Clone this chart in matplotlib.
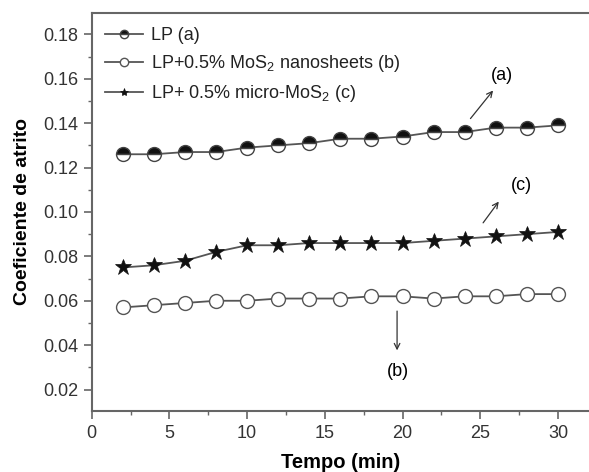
import matplotlib
matplotlib.use("Agg")
import matplotlib.pyplot as plt
from matplotlib.ticker import MultipleLocator

plt.rcParams['font.family'] = ['Liberation Sans', 'DejaVu Sans']
plt.rcParams['mathtext.fontset'] = 'custom'
plt.rcParams['mathtext.rm'] = 'Liberation Sans'

tempo = [2, 4, 6, 8, 10, 12, 14, 16, 18, 20, 22, 24, 26, 28, 30]
lp_a = [0.126, 0.126, 0.127, 0.127, 0.129, 0.130, 0.131, 0.133, 0.133, 0.134,
        0.136, 0.136, 0.138, 0.138, 0.139]
nano_b = [0.057, 0.058, 0.059, 0.060, 0.060, 0.061, 0.061, 0.061, 0.062, 0.062,
          0.061, 0.062, 0.062, 0.063, 0.063]
micro_c = [0.075, 0.076, 0.078, 0.082, 0.085, 0.085, 0.086, 0.086, 0.086, 0.086,
           0.087, 0.088, 0.089, 0.090, 0.091]
labels = ['LP (a)', r'LP+0.5% MoS$_2$ nanosheets (b)', r'LP+ 0.5% micro-MoS$_2$ (c)']
yticks = [0.02, 0.04, 0.06, 0.08, 0.10, 0.12, 0.14, 0.16, 0.18]
yticklabels = ['0.02', '0.04', '0.06', '0.08', '0.10', '0.12', '0.14', '0.16', '0.18']

fig = plt.figure(figsize=(5.89, 4.72), dpi=100)
ax = fig.add_axes([0.1557, 0.1300, 0.8443, 0.8418])

lc = '#555555'
ax.plot(tempo, lp_a, color=lc, lw=1.3, marker='o', ms=10, fillstyle='top',
        markerfacecolor='#111111', markerfacecoloralt='white',
        markeredgecolor='#444444', mew=1.0, label=labels[0])
ax.plot(tempo, nano_b, color=lc, lw=1.3, marker='o', ms=10,
        markerfacecolor='white', markeredgecolor='#555555', mew=1.0,
        label=labels[1])
ax.plot(tempo, micro_c, color=lc, lw=1.3, marker='*', ms=12,
        markerfacecolor='#111111', markeredgecolor='#111111', mew=0.5,
        label=labels[2])

ax.set_xlim(0, 32)
ax.set_ylim(0.0105, 0.1895)
ax.xaxis.set_major_locator(MultipleLocator(5))
ax.xaxis.set_minor_locator(MultipleLocator(2.5))
ax.yaxis.set_minor_locator(MultipleLocator(0.01))
ax.set_yticks(yticks)
ax.set_yticklabels(yticklabels)

for s in ['left', 'bottom', 'top']:
    ax.spines[s].set_color('#666666')
    ax.spines[s].set_linewidth(1.5)
ax.spines['right'].set_visible(False)
ax.tick_params(which='major', direction='out', length=5.5, width=1.2, color='#666666',
               labelsize=13, labelcolor='#333333')
ax.tick_params(axis='x', which='major', pad=5)
ax.tick_params(axis='y', which='major', pad=4)
ax.tick_params(which='minor', direction='out', length=3, width=1.0, color='#666666')

ax.set_xlabel('Tempo (min)', fontsize=14.5, fontweight='bold', labelpad=8)
ax.set_ylabel('Coeficiente de atrito', fontsize=14, fontweight='bold', labelpad=9)

arrow = dict(arrowstyle='->', color='#333333', lw=0.9)
ax.annotate('', xy=(25.94, 0.1557), xytext=(24.26, 0.1411), arrowprops=arrow)
ax.text(26.4, 0.1617, '(a)', fontsize=13, ha='center', va='center')
ax.annotate('', xy=(26.30, 0.1057), xytext=(25.08, 0.0941), arrowprops=arrow)
ax.text(27.65, 0.1121, '(c)', fontsize=13, ha='center', va='center')
ax.annotate('', xy=(19.65, 0.0364), xytext=(19.65, 0.0566), arrowprops=arrow)
ax.text(19.7, 0.0280, '(b)', fontsize=13, ha='center', va='center')

leg = ax.legend(loc='upper left', frameon=False, fontsize=13, handlelength=2.1,
                handletextpad=0.45, borderaxespad=0.25, labelspacing=0.5,
                borderpad=0.5, bbox_to_anchor=(0.0, 1.0))
for t in leg.get_texts():
    t.set_color('#222222')
for h in leg.legend_handles:
    h.set_markersize(6)

fig.savefig('out.png', dpi=100)
